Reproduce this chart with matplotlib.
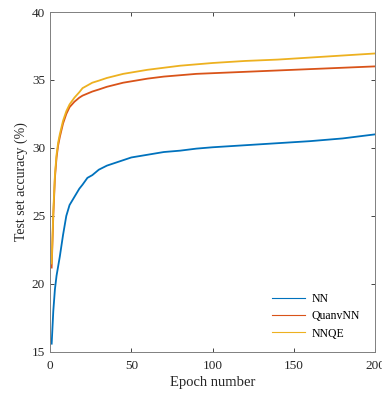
import matplotlib
matplotlib.use("Agg")
import matplotlib.pyplot as plt

plt.rcParams['font.family'] = ['Liberation Serif', 'DejaVu Serif']

# values
epochs = [1, 2, 3, 4, 5, 6, 8, 10, 12, 15, 18, 20, 23, 26, 30, 35, 40, 45, 50,
          60, 70, 80, 90, 100, 120, 140, 160, 180, 200]
nn = [15.6, 18.0, 19.6, 20.6, 21.3, 22.0, 23.6, 25.0, 25.8, 26.4, 27.0, 27.3, 27.8,
      28.0, 28.4, 28.7, 28.9, 29.1, 29.3, 29.5, 29.7, 29.8, 29.95, 30.05, 30.2,
      30.35, 30.5, 30.7, 31.0]
quanv = [21.2, 25.0, 27.8, 29.3, 30.2, 30.8, 31.8, 32.5, 33.0, 33.4, 33.7, 33.85,
         34.0, 34.15, 34.3, 34.5, 34.65, 34.8, 34.9, 35.1, 35.25, 35.35, 35.45,
         35.5, 35.6, 35.7, 35.8, 35.9, 36.0]
nnqe = [21.5, 25.3, 28.0, 29.5, 30.4, 31.0, 32.0, 32.7, 33.2, 33.7, 34.1, 34.4,
        34.6, 34.8, 34.95, 35.15, 35.3, 35.45, 35.55, 35.75, 35.9, 36.05, 36.15,
        36.25, 36.4, 36.5, 36.65, 36.8, 36.95]
labels = ['NN', 'QuanvNN', 'NNQE']
colors = ['#0072BD', '#D95319', '#EDB120']

fig = plt.figure(figsize=(3.82, 3.94), dpi=100)
ax = fig.add_axes([0.131, 0.107, 0.851, 0.8625])

for y, lab, c in zip([nn, quanv, nnqe], labels, colors):
    ax.plot(epochs, y, color=c, lw=1.3, label=lab)

ax.set_xlim(0, 200)
ax.set_ylim(15, 40)
ax.set_xticks([0, 50, 100, 150, 200])
ax.set_yticks([15, 20, 25, 30, 35, 40])
ax.tick_params(direction='in', top=True, right=True, labelsize=9.5, colors='#262626',
               length=3, width=0.6)
ax.tick_params(axis='x', pad=6)
for s in ax.spines.values():
    s.set_color('#808080')
    s.set_linewidth(0.7)
ax.set_xlabel('Epoch number', fontsize=10.5, color='#262626', labelpad=3)
ax.set_ylabel('Test set accuracy (%)', fontsize=10, color='#262626', labelpad=3)

leg = ax.legend(loc='lower right', bbox_to_anchor=(0.985, 0.005), frameon=False,
                fontsize=8.5, handlelength=2.8, handletextpad=0.5, labelspacing=0.45)
for line in leg.get_lines():
    line.set_linewidth(0.8)

fig.savefig('out.png', dpi=100)
